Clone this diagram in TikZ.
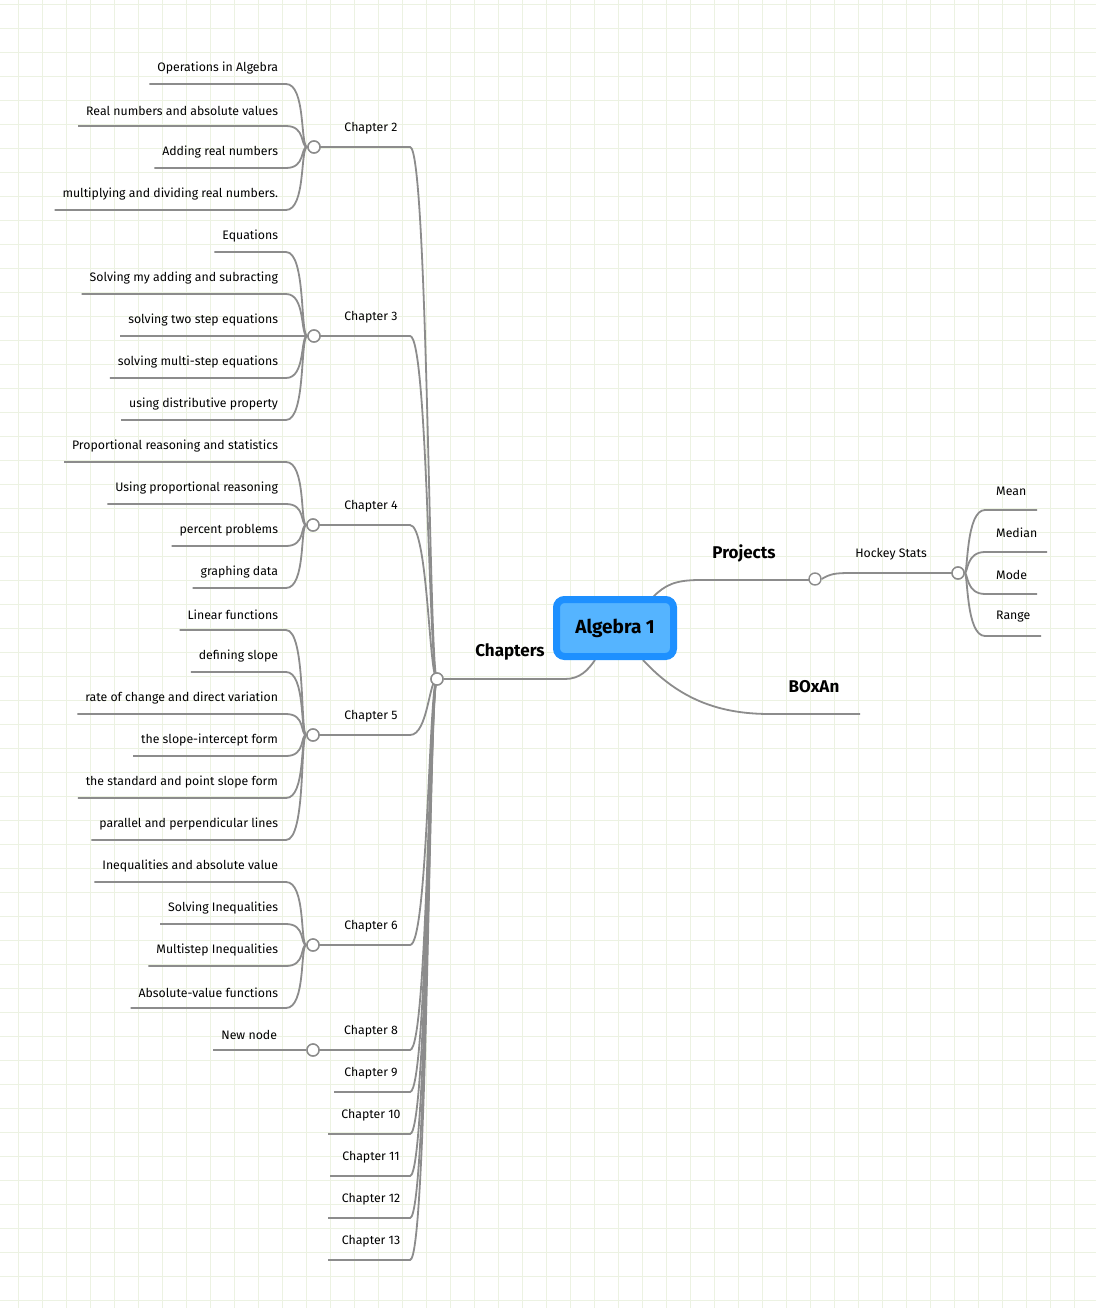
\documentclass[tikz,border=0pt]{standalone}
\usepackage{fontspec}
\setmainfont{Fira Sans}
\begin{document}
\begin{tikzpicture}[x=1pt,y=-1pt,
  conn/.style={draw=black!45,line width=1.8pt},
  knob/.style={circle,draw=black!45,line width=1.4pt,fill=white,minimum size=12pt,inner sep=0pt},
  leaf/.style={font=\fontsize{12.3}{14}\selectfont,inner xsep=8pt,inner ysep=10pt,outer sep=0pt},
  lbl/.style={font=\fontsize{12.3}{14}\selectfont,inner sep=0pt},
  big/.style={font=\bfseries\fontsize{17}{20}\selectfont,inner sep=0pt}]
\useasboundingbox (0,0) rectangle (1096,1308);
\fill[white] (0,0) rectangle (1096,1308);
\definecolor{gridc}{RGB}{236,242,226}
\foreach \x in {18,42,...,1096} \draw[draw=gridc,line width=0.8pt] (\x,0) -- (\x,1308);
\foreach \y in {4,28,...,1308} \draw[draw=gridc,line width=0.8pt] (0,\y) -- (1096,\y);
\coordinate (hubin) at (565,679);
\foreach \n/\ly/\cx/\ex in {2/147/314/410,3/336/314/410,4/525/313/410,5/735/313/410,6/945/313/410,8/1050/313/410,9/1092/334/410,10/1134/328/410,11/1176/330/410,12/1218/328/410,13/1260/328/410}{
  \coordinate (cs\n) at (\cx,\ly);
  \coordinate (ce\n) at (\ex,\ly);
  \node[lbl] (ch\n) at (371,\ly-19) {Chapter \n};
  \draw[conn] (cs\n) -- (ce\n) .. controls (428,\ly) and (429,679) .. (437,679);
}
\node[knob] (hub) at (437,679) {};
\foreach \n in {2,3,4,5,6,8}{\node[knob] (k\n) at (cs\n) {};}
\foreach \i/\ly/\t/\p in {
 a/84/Operations in Algebra/2, b/126/Real numbers and absolute values/2, c/168/Adding real numbers/2, d/210/multiplying and dividing real numbers./2,
 e/252/Equations/3, f/294/Solving my adding and subracting/3, g/336/solving two step equations/3, h/378/solving multi-step equations/3, i/420/using distributive property/3,
 j/462/Proportional reasoning and statistics/4, k/504/Using proportional reasoning/4, l/546/percent problems/4, m/588/graphing data/4,
 n/630/Linear functions/5, o/672/defining slope/5, p/714/rate of change and direct variation/5, q/756/the slope-intercept form/5, r/798/the standard and point slope form/5, s/840/parallel and perpendicular lines/5,
 t/882/Inequalities and absolute value/6, u/924/Solving Inequalities/6, v/966/Multistep Inequalities/6, w/1008/Absolute-value functions/6}{
  \node[leaf,anchor=south east] (L\i) at (286,\ly) {\t};
  \draw[conn] (L\i.south west) -- (L\i.south east) .. controls (306,\ly) and (300,0|-k\p) .. (k\p.west);
}
\node[leaf,anchor=south east] (Lnew) at (285,1050) {New node};
\draw[conn] (Lnew.south west) -- (k8.west);
\foreach \n in {2,3,4,5,6,8}{\node[knob] at (cs\n) {};}
\node[knob] at (hub) {};
\node[big] (chap) at (510,652) {Chapters};
\draw[conn] (hub.east) -- (hubin) .. controls (580,679) and (588,670) .. (595,660);
\node[big] (proj) at (744,553) {Projects};
\draw[conn] (653,597) .. controls (665,585) and (675,580) .. (700,580) -- (815,580);
\node[big] (box) at (814,687) {BOxAn};
\draw[conn] (643,660) .. controls (680,700) and (720,714) .. (770,714) -- (860,714);
\node[draw={rgb,255:red,30;green,144;blue,255},fill={rgb,255:red,85;green,180;blue,255},line width=7pt,rounded corners=8pt,minimum width=117pt,minimum height=57pt,font=\bfseries\fontsize{19}{22}\selectfont] (root) at (615,628) {Algebra 1};
\node[knob] (kp) at (815,579) {};
\node[lbl] (hs) at (891,554) {Hockey Stats};
\draw[conn] (kp.east) .. controls (830,574) and (835,573) .. (850,573) -- (952,573);
\node[knob] (kh) at (958,573) {};
\foreach \i/\ly/\t/\ex in {1/510/Mean/1037,2/552/Median/1047,3/594/Mode/1037,4/636/Range/1041}{
  \node[lbl,anchor=west] (R\i) at (996,\ly-19) {\t};
  \draw[conn] (kh.east) .. controls (968,573) and (966,\ly) .. (985,\ly) -- (\ex,\ly);
}
\node[knob] at (kh) {};
\end{tikzpicture}
\end{document}
